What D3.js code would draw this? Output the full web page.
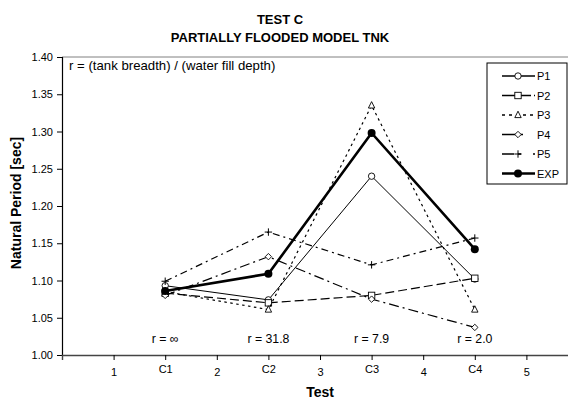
<!DOCTYPE html>
<html>
<head>
<meta charset="utf-8">
<script src="https://cdn.jsdelivr.net/npm/d3@7"></script>
<style>
  html, body { margin: 0; padding: 0; background: #fff; }
  svg { display: block; font-family: "Liberation Sans", Arial, sans-serif; }
</style>
</head>
<body>
<svg id="chart" width="568" height="399"></svg>
<script>
// Test positions (C1..C4 sit between the numbered ticks)
const categories = ["C1", "C2", "C3", "C4"];
const categoryPos = [1.5, 2.5, 3.5, 4.5];

// Natural period [sec] for each prediction and the experiment
const P1  = [1.093, 1.074, 1.240, 1.102];
const P2  = [1.083, 1.070, 1.080, 1.103];
const P3  = [1.085, 1.061, 1.335, 1.061];
const P4  = [1.080, 1.132, 1.075, 1.037];
const P5  = [1.099, 1.165, 1.121, 1.157];
const EXP = [1.086, 1.109, 1.298, 1.142];

// Ratio annotations per test
const ratioLabels = ["r = \u221E", "r = 31.8", "r = 7.9", "r = 2.0"];

// Axis tick labels
const xTickPos = [1, 1.5, 2, 2.5, 3, 3.5, 4, 4.5, 5];
const xTickLabels = ["1", "C1", "2", "C2", "3", "C3", "4", "C4", "5"];
const yTicks = [1.00, 1.05, 1.10, 1.15, 1.20, 1.25, 1.30, 1.35, 1.40];

const series = [
  { name: "P1",  values: P1,  dash: null,       legendDash: null,         width: 1,   marker: "circle" },
  { name: "P2",  values: P2,  dash: "9,4",      legendDash: "13,3",       width: 1.2, marker: "square" },
  { name: "P3",  values: P3,  dash: "2.5,3.5",  legendDash: "3,4",        width: 1.2, marker: "triangle" },
  { name: "P4",  values: P4,  dash: "10,4,2,4", legendDash: "14,4,3,12",  width: 1.2, marker: "diamond" },
  { name: "P5",  values: P5,  dash: "7,4,2,4",  legendDash: "12,4,3,12",  width: 1.2, marker: "plus" },
  { name: "EXP", values: EXP, dash: null,       legendDash: null,         width: 2.6, marker: "dot" }
];

const svg = d3.select("#chart");
const plotLeft = 62, plotTop = 57, plotBottom = 355, plotRight = 578;

const x = d3.scaleLinear().domain([0.5, 5.5]).range([plotLeft, plotRight]);
const y = d3.scaleLinear().domain([1.0, 1.4]).range([plotBottom, plotTop]);

// Titles
svg.append("text").attr("x", 280).attr("y", 24).attr("text-anchor", "middle")
  .attr("font-size", 13).attr("font-weight", "bold").text("TEST C");
svg.append("text").attr("x", 280).attr("y", 42).attr("text-anchor", "middle")
  .attr("font-size", 13).attr("font-weight", "bold").text("PARTIALLY FLOODED MODEL TNK");

// Plot frame top line
svg.append("line").attr("x1", plotLeft).attr("x2", 568).attr("y1", plotTop).attr("y2", plotTop)
  .attr("stroke", "#808080").attr("stroke-width", 1);

// Y axis
const yAxis = svg.append("g").attr("transform", `translate(${plotLeft},0)`)
  .call(d3.axisLeft(y).tickValues(yTicks).tickFormat(d3.format(".2f")).tickSize(5).tickPadding(4));
yAxis.select(".domain").attr("stroke", "#000").attr("stroke-width", 1.2);
yAxis.selectAll(".tick line").attr("stroke", "#000");
yAxis.selectAll("text").attr("font-size", 11).attr("fill", "#000")
  .style("font-family", "'Liberation Sans', Arial, sans-serif");

// X axis
const xAxis = svg.append("g").attr("transform", `translate(0,${plotBottom})`)
  .call(d3.axisBottom(x).tickValues(xTickPos)
    .tickFormat((d, i) => xTickLabels[i]).tickSize(5).tickSizeOuter(5).tickPadding(8));
xAxis.select(".domain").attr("stroke", "#444").attr("stroke-width", 1.4);
xAxis.selectAll(".tick line").attr("stroke", "#000");
xAxis.selectAll("text").attr("font-size", 11).attr("fill", "#000")
  .style("font-family", "'Liberation Sans', Arial, sans-serif")
  .attr("dy", d => Number.isInteger(d) ? "0.71em" : "0.45em");

// Axis titles
svg.append("text").attr("transform", `translate(21,${(plotTop + plotBottom) / 2 - 3}) rotate(-90)`)
  .attr("text-anchor", "middle").attr("font-size", 14).attr("font-weight", "bold")
  .text("Natural Period [sec]");
svg.append("text").attr("x", x(3)).attr("y", 397).attr("text-anchor", "middle")
  .attr("font-size", 14).attr("font-weight", "bold").text("Test");

// Annotations
svg.append("text").attr("x", 69).attr("y", 70).attr("font-size", 13.2)
  .text("r = (tank breadth) / (water fill depth)");
svg.selectAll(".ratio").data(ratioLabels).join("text").attr("class", "ratio")
  .attr("x", (d, i) => x(categoryPos[i])).attr("y", 343).attr("text-anchor", "middle")
  .attr("font-size", 12.3).text(d => d);

// Marker drawing
function drawMarker(g, type, cx, cy) {
  const s = 3.2;
  if (type === "circle") {
    g.append("circle").attr("cx", cx).attr("cy", cy).attr("r", s)
      .attr("fill", "#fff").attr("stroke", "#000").attr("stroke-width", 0.9);
  } else if (type === "square") {
    g.append("rect").attr("x", cx - s).attr("y", cy - s).attr("width", 2 * s).attr("height", 2 * s)
      .attr("fill", "#fff").attr("stroke", "#000").attr("stroke-width", 0.9);
  } else if (type === "triangle") {
    g.append("path").attr("d", `M${cx},${cy - s - 0.6}L${cx + s},${cy + s - 0.6}L${cx - s},${cy + s - 0.6}Z`)
      .attr("fill", "#fff").attr("stroke", "#000").attr("stroke-width", 0.9);
  } else if (type === "diamond") {
    g.append("path").attr("d", `M${cx},${cy - s}L${cx + s},${cy}L${cx},${cy + s}L${cx - s},${cy}Z`)
      .attr("fill", "#fff").attr("stroke", "#000").attr("stroke-width", 0.9);
  } else if (type === "plus") {
    g.append("path").attr("d", `M${cx - s - 0.5},${cy}H${cx + s + 0.5}M${cx},${cy - s - 0.5}V${cy + s + 0.5}`)
      .attr("stroke", "#000").attr("stroke-width", 1);
  } else if (type === "dot") {
    g.append("circle").attr("cx", cx).attr("cy", cy).attr("r", 4).attr("fill", "#000");
  }
}

const line = d3.line().x((d, i) => x(categoryPos[i])).y(d => y(d));

const plot = svg.append("g");
series.forEach(s => {
  const g = plot.append("g");
  g.append("path").datum(s.values).attr("d", line).attr("fill", "none")
    .attr("stroke", "#000").attr("stroke-width", s.width)
    .attr("stroke-dasharray", s.dash);
  s.values.forEach((v, i) => drawMarker(g, s.marker, x(categoryPos[i]), y(v)));
});

// Legend
const lg = svg.append("g");
lg.append("rect").attr("x", 487).attr("y", 63).attr("width", 80).attr("height", 121)
  .attr("fill", "#fff").attr("stroke", "#000").attr("stroke-width", 1);
series.forEach((s, i) => {
  const ly = 76 + i * 19.5;
  const g = lg.append("g");
  g.append("line").attr("x1", 502).attr("x2", 535).attr("y1", ly).attr("y2", ly)
    .attr("stroke", "#000").attr("stroke-width", Math.max(s.width, 1.4))
    .attr("stroke-dasharray", s.legendDash);
  drawMarker(g, s.marker, 518, ly);
  g.append("text").attr("x", 537).attr("y", ly + 4).attr("font-size", 11).text(s.name);
});
</script>
</body>
</html>
